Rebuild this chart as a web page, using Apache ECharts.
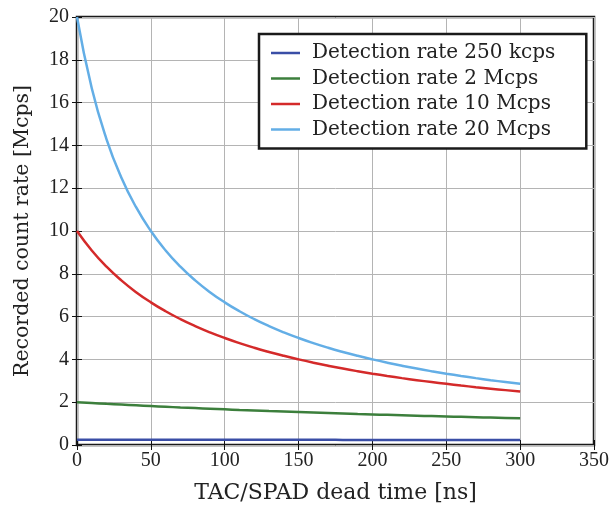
<!DOCTYPE html>
<html><head><meta charset="utf-8">
<script src="https://cdn.jsdelivr.net/npm/echarts@6/dist/echarts.min.js"></script>
<style>html,body{margin:0;padding:0;background:#fff}#c{width:610px;height:506px}</style>
</head><body><div id="c"></div>
<script>
const deadTime = [0,10,20,30,40,50,60,70,80,90,100,110,120,130,140,150,160,170,180,190,200,210,220,230,240,250,260,270,280,290,300];
const rate250k = [0.25,0.2494,0.2488,0.2481,0.2475,0.2469,0.2463,0.2457,0.2451,0.2445,0.2439,0.2433,0.2428,0.2422,0.2416,0.2410,0.2405,0.2399,0.2393,0.2388,0.2381,0.2377,0.2371,0.2366,0.2361,0.2353,0.2350,0.2345,0.2340,0.2334,0.2326];
const rate2M = [2,1.961,1.923,1.887,1.852,1.818,1.786,1.754,1.724,1.695,1.667,1.639,1.613,1.587,1.563,1.538,1.515,1.493,1.471,1.449,1.429,1.408,1.389,1.370,1.351,1.333,1.316,1.299,1.282,1.266,1.25];
const rate10M = [10,9.091,8.333,7.692,7.143,6.667,6.25,5.882,5.556,5.263,5,4.762,4.545,4.348,4.167,4,3.846,3.704,3.571,3.448,3.333,3.226,3.125,3.030,2.941,2.857,2.778,2.703,2.632,2.564,2.5];
const rate20M = [20,16.667,14.286,12.5,11.111,10,9.091,8.333,7.692,7.143,6.667,6.25,5.882,5.556,5.263,5,4.762,4.545,4.348,4.167,4,3.846,3.704,3.571,3.448,3.333,3.226,3.125,3.030,2.941,2.857];
const seriesNames = ['Detection rate 250 kcps','Detection rate 2 Mcps','Detection rate 10 Mcps','Detection rate 20 Mcps'];
const seriesColors = ['#3a4ea6','#3c7f3c','#d42a2a','#63aee6'];
const seriesValues = [rate250k, rate2M, rate10M, rate20M];

const TICKFONT = 'Liberation Serif';
const TEXTFONT = 'DejaVu Serif';
const chart = echarts.init(document.getElementById('c'));
const axisCommon = {
  axisLine:{show:false},
  axisTick:{show:true, inside:true, length:5, lineStyle:{color:'#111', width:1}},
  splitLine:{show:true, lineStyle:{color:'#b4b4b4', width:1}}
};
chart.setOption({
  animation:false,
  grid:{left:77, right:16, top:17, bottom:61, outerBoundsMode:'none', containLabel:false,
    show:true, borderColor:'#1a1a1a', borderWidth:2.5, backgroundColor:'transparent'},
  legend:{
    orient:'vertical', left:259, top:34,
    data: seriesNames,
    icon:'rect', itemWidth:29, itemHeight:2.5, itemGap:3.5,
    padding:[8,31,8,12],
    borderColor:'#1a1a1a', borderWidth:2.5, backgroundColor:'#fff',
    textStyle:{fontFamily:TEXTFONT, fontSize:20, color:'#222', lineHeight:22, padding:[0,0,0,7]}
  },
  xAxis:[
    Object.assign({type:'value', min:0, max:350, interval:50, position:'bottom',
      name:'TAC/SPAD dead time [ns]', nameLocation:'middle', nameGap:37,
      nameTextStyle:{fontFamily:TEXTFONT, fontSize:22, color:'#222'},
      axisLabel:{fontFamily:TICKFONT, fontSize:20, color:'#222', margin:6}}, axisCommon),
    {type:'value', min:0, max:350, interval:50, position:'top', axisLine:{show:false}, axisLabel:{show:false},
      axisTick:{show:true, inside:true, length:5, lineStyle:{color:'#111'}}, splitLine:{show:false}}
  ],
  yAxis:[
    Object.assign({type:'value', min:0, max:20, interval:2, position:'left',
      name:'Recorded count rate [Mcps]', nameLocation:'middle', nameGap:44, nameRotate:90,
      nameTextStyle:{fontFamily:TEXTFONT, fontSize:20.5, color:'#222'},
      axisLabel:{fontFamily:TICKFONT, fontSize:20, color:'#222', margin:8}}, axisCommon),
    {type:'value', min:0, max:20, interval:2, position:'right', axisLine:{show:false}, axisLabel:{show:false},
      axisTick:{show:true, inside:true, length:5, lineStyle:{color:'#111'}}, splitLine:{show:false}}
  ],
  series: seriesNames.map((n,i)=>({
    name:n, type:'line', smooth:true, symbol:'none', xAxisIndex:0, yAxisIndex:0,
    color:seriesColors[i], lineStyle:{color:seriesColors[i], width:2.5},
    data: deadTime.map((t,j)=>[t, seriesValues[i][j]])
  }))
});
</script></body></html>
